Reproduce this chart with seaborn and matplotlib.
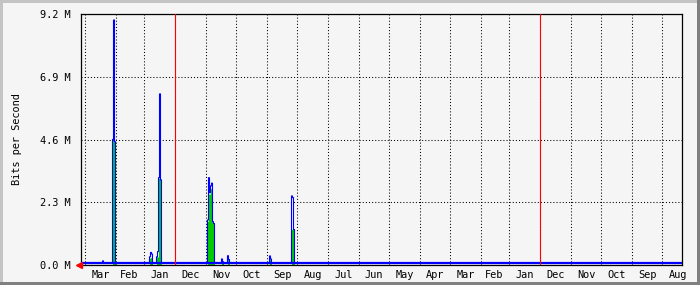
import numpy as np
import pandas as pd
import matplotlib
matplotlib.use("Agg")
import matplotlib.pyplot as plt
import matplotlib.dates as mdates
from matplotlib.ticker import NullFormatter
from matplotlib.patches import Rectangle
import seaborn as sns

# ---- data (Mbit/s) ----
range_start = "2009-08-12"
range_end = "2011-04-05"
year_marks = ["2010-01-01", "2011-01-01"]
y_ticks = [0.0, 2.3, 4.6, 6.9, 9.2]
y_tick_labels = ["0.0 M", "2.3 M", "4.6 M", "6.9 M", "9.2 M"]
base_out = 0.06
event_dates = ["2011-03-14", "2011-03-05", "2011-03-04", "2011-03-03", "2011-03-02",
               "2011-01-26", "2011-01-25", "2011-01-24",
               "2011-01-19", "2011-01-18", "2011-01-17", "2011-01-16", "2011-01-15",
               "2010-11-30", "2010-11-29", "2010-11-28", "2010-11-27", "2010-11-26",
               "2010-11-25", "2010-11-24", "2010-11-23", "2010-11-15", "2010-11-14",
               "2010-11-09", "2010-11-08",
               "2010-09-28", "2010-09-27",
               "2010-09-07", "2010-09-06", "2010-09-05", "2010-09-04"]
in_mbps = [0.0, 0.0, 4.56, 4.56, 4.50,
           0.25, 0.27, 0.12,
           0.30, 0.30, 3.18, 3.18, 3.10,
           0.0, 1.60, 2.60, 2.60, 2.80,
           2.80, 1.55, 1.50, 0.12, 0.10,
           0.20, 0.18,
           0.22, 0.20,
           0.0, 1.31, 1.31, 1.27]
out_mbps = [0.15, 0.06, 4.60, 8.98, 4.52,
            0.30, 0.46, 0.40,
            0.30, 0.49, 3.20, 6.27, 3.12,
            0.06, 1.65, 3.20, 2.65, 2.90,
            3.00, 1.59, 1.52, 0.22, 0.12,
            0.34, 0.20,
            0.33, 0.22,
            0.06, 2.53, 2.47, 1.30]

days = pd.date_range(range_start, range_end, freq="D")
df = pd.DataFrame({"date": days, "in": 0.0, "out": base_out}).set_index("date")
ev = pd.to_datetime(event_dates)
df.loc[ev, "in"] = in_mbps
df.loc[ev, "out"] = out_mbps
df = df.reset_index()

sns.set_style("white")
plt.rcParams["font.family"] = ["DejaVu Sans Mono"]
FS = 7.4
bg = "#f5f5f5"

fig = plt.figure(figsize=(7, 2.85), dpi=100, facecolor=bg)
ax = fig.add_axes([81 / 700, 20 / 285, 601 / 700, 251 / 285])
ax.set_facecolor(bg)

ax.fill_between(df["date"], 0, df["in"], step="mid", color="#00cc00", lw=0, zorder=2)
sns.lineplot(data=df, x="date", y="out", color="#0000ff", lw=0.8,
             drawstyle="steps-mid", estimator=None, ax=ax, zorder=3)
# thicker baseline band of the out series
ax.plot(df["date"], np.minimum(df["out"], base_out), color="#0000ff", lw=1.6, zorder=3)

for d in year_marks:
    ax.axvline(pd.Timestamp(d), color="#ff0000", lw=0.8, zorder=4)

ax.set_xlim(pd.Timestamp(range_end), pd.Timestamp(range_start))
ax.set_ylim(0, 9.2)

ax.xaxis.set_major_locator(mdates.MonthLocator())
ax.xaxis.set_major_formatter(NullFormatter())
ax.xaxis.set_minor_locator(mdates.MonthLocator(bymonthday=16))
ax.xaxis.set_minor_formatter(mdates.DateFormatter("%b"))
ax.set_yticks(y_ticks)
ax.set_yticklabels(y_tick_labels)

dots = (0, (1, 2))
ax.grid(axis="x", which="major", color="black", lw=0.75, linestyle=dots, zorder=1)
ax.grid(axis="y", which="major", color="black", lw=0.75, linestyle=dots, zorder=1)
ax.set_axisbelow(True)

ax.tick_params(axis="x", which="major", length=2.5, width=0.75, direction="out", color="black")
ax.tick_params(axis="x", which="minor", length=0, pad=3.5, labelsize=FS, labelcolor="black")
ax.tick_params(axis="y", which="major", length=2.5, width=0.75, direction="out",
               pad=5, labelsize=FS, labelcolor="black")

for s in ax.spines.values():
    s.set_visible(True)
    s.set_color("black")
    s.set_linewidth(0.9)

ax.set_xlabel("")
ax.set_ylabel("Bits per Second", fontsize=FS, color="black")
ax.yaxis.set_label_coords(-0.099, 0.5)

# origin arrow
ax.plot([-0.004], [0.0], marker="<", color="#ff0000", ms=4.5, mec="#ff0000",
        transform=ax.transAxes, clip_on=False, zorder=6)

# outer 3D frame
light = "#c4c4c4"
dark = "#808080"
fig.add_artist(Rectangle((0, 1 - 3 / 285), 1, 3 / 285, transform=fig.transFigure, color=light, lw=0))
fig.add_artist(Rectangle((0, 0), 3 / 700, 1, transform=fig.transFigure, color=light, lw=0))
fig.add_artist(Rectangle((1 - 3 / 700, 0), 3 / 700, 1, transform=fig.transFigure, color=dark, lw=0))
fig.add_artist(Rectangle((0, 0), 1, 3 / 285, transform=fig.transFigure, color=dark, lw=0))

fig.savefig("out.png", dpi=100, facecolor=bg)
